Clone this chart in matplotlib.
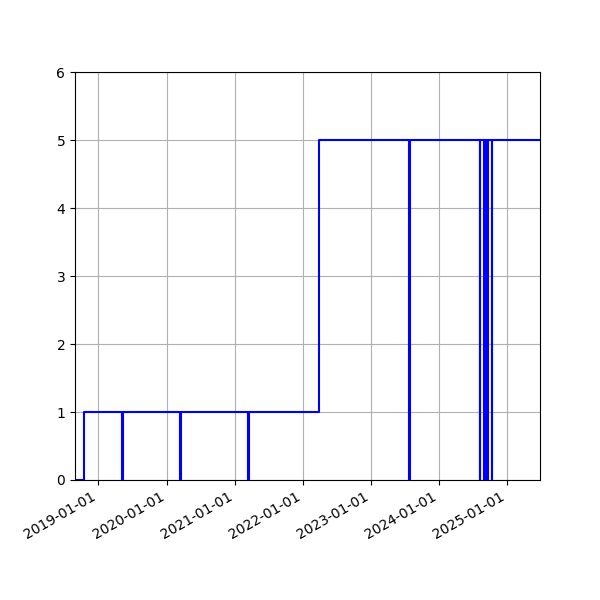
import numpy as np
import pandas as pd
import matplotlib
matplotlib.use('Agg')
import matplotlib.pyplot as plt
import matplotlib.dates as mdates

# level changes of the series (steps-post)
dates = ['2018-08-28', '2018-10-13',
         '2019-05-07', '2019-05-12',
         '2020-03-11', '2020-03-17',
         '2021-03-13', '2021-03-18',
         '2022-03-29',
         '2023-07-24', '2023-07-30',
         '2024-08-07', '2024-08-10',
         '2024-08-31', '2024-09-03',
         '2024-09-17', '2024-09-20',
         '2024-10-10', '2024-10-14',
         '2025-06-27']
values = [0, 1,
          0, 1,
          0, 1,
          0, 1,
          5,
          0, 5,
          0, 5,
          0, 5,
          0, 5,
          0, 5,
          5]

x = pd.to_datetime(dates)

fig, ax = plt.subplots(figsize=(6, 6), dpi=100)
ax.plot(x, values, color='blue', drawstyle='steps-post')
ax.set_xlim(x[0], x[-1])
ax.set_ylim(0, 6)
ax.xaxis.set_major_locator(mdates.YearLocator())
ax.xaxis.set_major_formatter(mdates.DateFormatter('%Y-%m-%d'))
ax.grid(True)
fig.autofmt_xdate()
fig.savefig('out.png')
